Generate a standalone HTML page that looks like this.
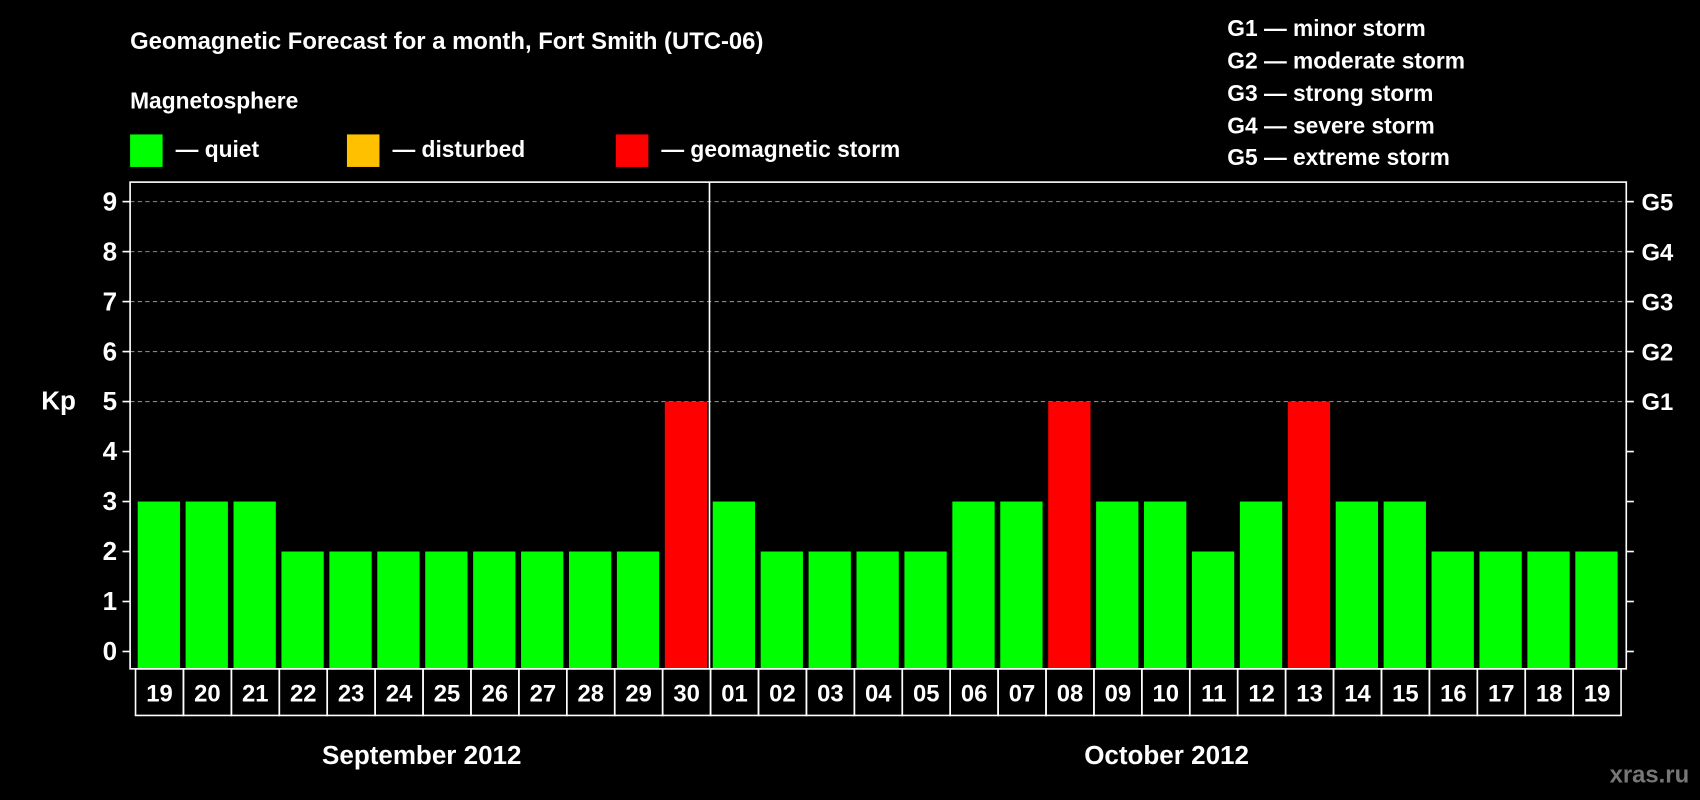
<!DOCTYPE html>
<html><head><meta charset="utf-8"><style>
html,body{margin:0;padding:0;background:#000;}
svg{display:block;font-family:"Liberation Sans",Arial,sans-serif;font-weight:bold;}
</style></head><body>
<svg id="chart" width="1700" height="800" viewBox="0 0 1568 738" preserveAspectRatio="none">
<rect width="1568" height="738" fill="#000"/>
<text x="120" y="45" fill="#fff" font-size="22">Geomagnetic Forecast for a month, Fort Smith (UTC-06)</text>
<text x="120" y="100" fill="#fff" font-size="21">Magnetosphere</text>
<g><rect x="120" y="124" width="30" height="30" fill="#00ff00"/><text x="162" y="145" fill="#fff" font-size="21">— quiet</text></g>
<g><rect x="320" y="124" width="30" height="30" fill="#ffc000"/><text x="362" y="145" fill="#fff" font-size="21">— disturbed</text></g>
<g><rect x="568" y="124" width="30" height="30" fill="#ff0000"/><text x="610" y="145" fill="#fff" font-size="21">— geomagnetic storm</text></g>
<g fill="#fff" font-size="21">
<text x="1132" y="33">G1 — minor storm</text><text x="1132" y="63">G2 — moderate storm</text><text x="1132" y="93">G3 — strong storm</text><text x="1132" y="123">G4 — severe storm</text><text x="1132" y="152">G5 — extreme storm</text>
</g>
<text x="38" y="378" fill="#fff" font-size="24">Kp</text>
<g id="grid"></g><g id="bars"></g><g id="axes"></g><g id="dates"></g>
<text x="389" y="705" fill="#fff" font-size="24" text-anchor="middle">September 2012</text>
<text x="1076" y="705" fill="#fff" font-size="24" text-anchor="middle">October 2012</text>
<text x="1558" y="722" fill="#777" font-size="22" text-anchor="end">xras.ru</text>
</svg>
<script>
const days = ["19","20","21","22","23","24","25","26","27","28","29","30","01","02","03","04","05","06","07","08","09","10","11","12","13","14","15","16","17","18","19"];
const kpValues = [3,3,3,2,2,2,2,2,2,2,2,5,3,2,2,2,2,3,3,5,3,3,2,3,5,3,3,2,2,2,2];
const yTicks = [0,1,2,3,4,5,6,7,8,9];
const gLabels = ["G1","G2","G3","G4","G5"];
const NS="http://www.w3.org/2000/svg";
const L=120,R=1500,T=168,B=617,y0=601,unit=(601-186)/9,x0=125,pitch=44.2;
const y=v=>y0-v*unit;
const xs=i=>x0+i*pitch;
function mk(t,a,p){const e=document.createElementNS(NS,t);for(const k in a)e.setAttribute(k,a[k]);p.appendChild(e);return e;}
const grid=document.getElementById('grid'),bars=document.getElementById('bars'),axes=document.getElementById('axes'),dates=document.getElementById('dates');
yTicks.forEach(v=>{
  if(v>=5){const g=mk('line',{x1:L,x2:R,y1:y(v),y2:y(v),stroke:'#888','stroke-dasharray':'4,3','stroke-width':1},grid);
  
  }
  const tl=mk('line',{x1:L-7,x2:L,y1:y(v),y2:y(v),stroke:'#fff','stroke-width':1.5},axes);
  
  
  const tr=mk('line',{x1:R,x2:R+7,y1:y(v),y2:y(v),stroke:'#fff','stroke-width':1.5},axes);
  
  
  const t=mk('text',{x:L-12,y:y(v)+8,fill:'#fff','font-size':24,'text-anchor':'end'},axes);t.textContent=v;
  
  
});
gLabels.forEach((g,i)=>{const t=mk('text',{x:R+14,y:y(5+i)+8,fill:'#fff','font-size':22},axes);t.textContent=g;
  
  });
kpValues.forEach((v,i)=>{
  const c=v>=5?'#ff0000':(v>=4?'#ffc000':'#00ff00');
  const b=mk('rect',{x:xs(i)+2,y:y(v),width:39,height:y(0)-y(v)+16,fill:c},bars);
  
  
  const cell=mk('rect',{x:xs(i),y:B,width:pitch,height:43,fill:'none',stroke:'#fff','stroke-width':1.5},dates);
  
  
  const t=mk('text',{x:xs(i)+pitch/2,y:B+30,fill:'#fff','font-size':22,'text-anchor':'middle'},dates);t.textContent=days[i];
  
  
});
const fr=mk('rect',{x:L,y:T,width:R-L,height:B-T,fill:'none',stroke:'#fff','stroke-width':1.5},axes);


const sep=mk('line',{x1:xs(12)-1,x2:xs(12)-1,y1:T,y2:B,stroke:'#fff','stroke-width':1.5},axes);


</script>
</body></html>
